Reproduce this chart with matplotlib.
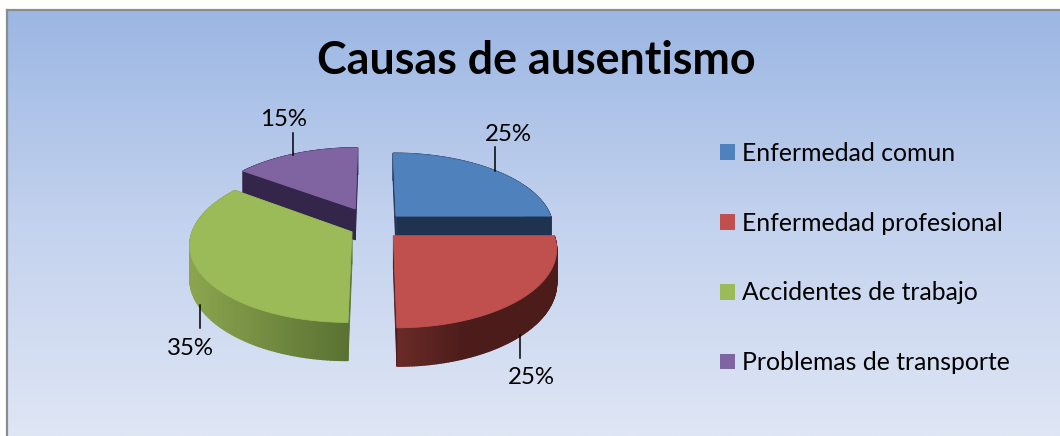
import numpy as np
import matplotlib.pyplot as plt
from matplotlib.colors import LinearSegmentedColormap, to_rgb
from matplotlib.patches import Patch

categorias = ['Enfermedad comun', 'Enfermedad profesional', 'Accidentes de trabajo', 'Problemas de transporte']
valores = [25, 25, 35, 15]
colores = ['#4f81bd', '#c0504d', '#9bbb59', '#8064a2']
# caras de corte y lateral (izq -> der)
lado_ini = ['#1f3350', '#6b2b28', '#8ba54f', '#33264a']
lado_fin = ['#1f3350', '#4c1c1a', '#5b7232', '#33264a']
corte = ['#1f3350', '#4c1c1a', '#5b7232', '#33264a']
explode = [0.2, 0.17, 0.155, 0.27]

# proyeccion del pastel
CX, CY, R, ESC, P, DEPTH = 374, 226.5, 158, 0.476, 0.15, 32

plt.rcParams['font.family'] = ['Lato', 'DejaVu Sans']

fig = plt.figure(figsize=(10.6, 4.36), dpi=100)
ax = fig.add_axes([0, 0, 1, 1])
ax.axis('off')

# fondo con degradado
cm_fondo = LinearSegmentedColormap.from_list('fondo', ['#9cb7e3', '#c3d2ee', '#dfe6f5'])
ax.imshow(np.linspace(0, 1, 256).reshape(-1, 1), cmap=cm_fondo, extent=[8, 1060, 436, 11], aspect='auto', zorder=0)
ax.plot([7, 7], [436, 10], color='#8c8c8c', lw=1.6, zorder=1)
ax.plot([7, 1060], [10, 10], color='#8c8c8c', lw=1.6, zorder=1)
ax.set_xlim(0, 1060)
ax.set_ylim(436, 0)


def proy(u, v, z=0):
    w = 1 / (1 + P * v)
    return CX + R * u * w, CY - R * ESC * v * w + z * w


def porcion(i, z_base):
    total = sum(valores)
    ini = sum(valores[:i]) / total * 2 * np.pi
    fin = sum(valores[:i + 1]) / total * 2 * np.pi
    medio = (ini + fin) / 2
    ou, ov = explode[i] * np.sin(medio), explode[i] * np.cos(medio)
    t = np.linspace(ini, fin, 120)
    u, v = ou + np.sin(t), ov + np.cos(t)

    # lateral exterior, segmento por segmento
    xa, ya = proy(u, v)
    xb, yb = proy(u, v, DEPTH)
    c0, c1 = np.array(to_rgb(lado_ini[i])), np.array(to_rgb(lado_fin[i]))
    xmin, xmax = xa.min(), xa.max()
    for k in range(len(t) - 1):
        f = (xa[k] - xmin) / (xmax - xmin)
        if i == 1:
            f = min(f * 2.4, 1)
        col = c0 + (c1 - c0) * f
        ax.fill([xa[k], xa[k + 1], xb[k + 1], xb[k]], [ya[k], ya[k + 1], yb[k + 1], yb[k]],
                color=col, lw=1, zorder=z_base)

    # caras de corte
    xc, yc = proy(ou, ov)
    xd, yd = proy(ou, ov, DEPTH)
    for x1, y1, x2, y2 in [(xa[0], ya[0], xb[0], yb[0]), (xa[-1], ya[-1], xb[-1], yb[-1])]:
        ax.fill([xc, x1, x2, xd], [yc, y1, y2, yd], color=corte[i], lw=0.6, zorder=z_base)

    # tapa
    ax.fill(np.r_[xc, xa], np.r_[yc, ya], color=colores[i], lw=0.6, zorder=z_base + 1)


# de atras hacia adelante
for z, i in enumerate([3, 0, 2, 1]):
    porcion(i, 2 + 2 * z)

# etiquetas con linea guia
guias_x = [495, 520, 200, 293]
guias_y = [(147, 171), (335, 358), (305, 328), (133, 155)]
etiq_xy = [(508, 134), (531, 377), (190, 348), (284, 119)]
for i, v in enumerate(valores):
    ax.plot([guias_x[i]] * 2, guias_y[i], color='black', lw=1.1, zorder=12)
    ax.text(etiq_xy[i][0], etiq_xy[i][1], f'{v}%', fontsize=17.3, ha='center', va='center', color='black', zorder=13)

ax.text(536.5, 61, 'Causas de ausentismo', fontsize=32.3, fontweight='bold', ha='center', va='center', color='black', zorder=13)

manijas = [Patch(facecolor=c, edgecolor='none') for c in colores]
ax.legend(manijas, categorias, loc='upper left', bbox_to_anchor=(720 / 1060, 1 - 142 / 436), frameon=False,
          fontsize=17.8, handlelength=0.607, handleheight=0.607, handletextpad=0.28, labelspacing=1.89, borderpad=0, borderaxespad=0)

fig.savefig('out.png', dpi=100)
